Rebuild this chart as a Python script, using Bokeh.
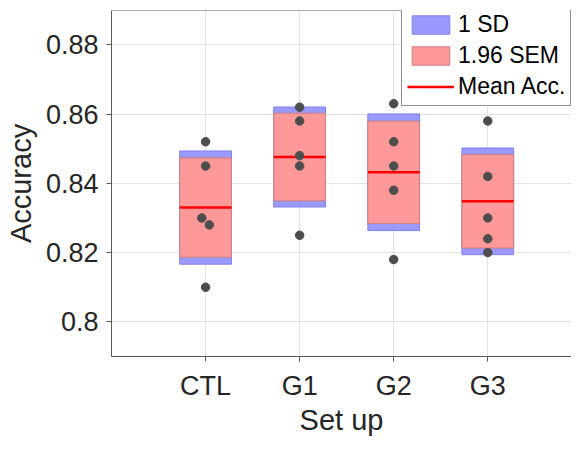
import numpy as np
from bokeh.plotting import figure
from bokeh.models import (Range1d, FixedTicker, LinearAxis, ColumnDataSource, Legend,
                          LegendItem, Grid, Span)
from bokeh.embed import file_html
from bokeh.resources import INLINE

# ---- data ----
groups = ["CTL", "G1", "G2", "G3"]
ctl_acc = [0.852, 0.845, 0.830, 0.828, 0.810]
g1_acc = [0.862, 0.858, 0.848, 0.845, 0.825]
g2_acc = [0.863, 0.852, 0.845, 0.838, 0.818]
g3_acc = [0.858, 0.842, 0.830, 0.824, 0.820]
ctl_jitter = [0.0, 0.0, -0.04, 0.04, 0.0]
g1_jitter = [0.0, 0.0, 0.0, 0.0, 0.0]
g2_jitter = [0.0, 0.0, 0.0, 0.0, 0.0]
g3_jitter = [0.0, 0.0, 0.0, 0.0, 0.0]
y_ticks = [0.80, 0.82, 0.84, 0.86, 0.88]
y_tick_labels = ["0.8", "0.82", "0.84", "0.86", "0.88"]

all_acc = [ctl_acc, g1_acc, g2_acc, g3_acc]
all_jit = [ctl_jitter, g1_jitter, g2_jitter, g3_jitter]
xpos = [1, 2, 3, 4]
half_w = 0.275

means, sds, sems = [], [], []
for a in all_acc:
    arr = np.array(a)
    m = arr.mean()
    sd = arr.std(ddof=1)
    means.append(m)
    sds.append(sd)
    sems.append(1.96 * sd / np.sqrt(len(arr)))

box = ColumnDataSource(dict(
    left=[x - half_w for x in xpos], right=[x + half_w for x in xpos],
    sd_top=[m + s for m, s in zip(means, sds)], sd_bot=[m - s for m, s in zip(means, sds)],
    sem_top=[m + s for m, s in zip(means, sems)], sem_bot=[m - s for m, s in zip(means, sems)],
    mean=means,
))
px, py = [], []
for x, a, j in zip(xpos, all_acc, all_jit):
    for v, d in zip(a, j):
        px.append(x + d)
        py.append(v)
pts = ColumnDataSource(dict(x=px, y=py))

FONT = "Liberation Sans"
AX = "#5a5a5a"
TXT = "#262626"
Y0, Y1 = 0.79, 0.8899

p = figure(width=571, height=438, output_backend="svg", toolbar_location=None,
           x_range=Range1d(0, 4.89), y_range=Range1d(Y0, Y1),
           min_border_left=111, min_border_right=0, min_border_top=10, min_border_bottom=81,
           x_axis_location=None, y_axis_location=None)
p.outline_line_color = None
p.background_fill_color = "white"

def style_axis(ax):
    ax.axis_line_color = AX
    ax.major_tick_line_color = AX
    ax.major_tick_in = 0
    ax.major_tick_out = 5
    ax.minor_tick_line_color = None
    ax.major_label_text_font = FONT
    ax.major_label_text_color = TXT
    ax.axis_label_text_font = FONT
    ax.axis_label_text_color = TXT
    ax.axis_label_text_font_style = "normal"

xa = LinearAxis(ticker=FixedTicker(ticks=xpos),
                major_label_overrides={x: g for x, g in zip(xpos, groups)},
                axis_label="Set up")
style_axis(xa)
xa.major_label_text_font_size = "27px"
xa.axis_label_text_font_size = "29px"
xa.major_label_standoff = 9
xa.axis_label_standoff = 0
p.add_layout(xa, "below")

ya = LinearAxis(ticker=FixedTicker(ticks=y_ticks),
                major_label_overrides={t: l for t, l in zip(y_ticks, y_tick_labels)},
                axis_label="Accuracy")
style_axis(ya)
ya.major_label_text_font_size = "27px"
ya.axis_label_text_font_size = "29px"
ya.major_label_standoff = 8
ya.axis_label_standoff = 6
p.add_layout(ya, "left")

# top border of the box
p.add_layout(Span(location=Y1, dimension="width", line_color=AX, line_width=1))

p.xgrid.visible = False
p.ygrid.visible = False
p.add_layout(Grid(dimension=0, ticker=FixedTicker(ticks=xpos), grid_line_color="#e3e3e3"))
p.add_layout(Grid(dimension=1, ticker=FixedTicker(ticks=y_ticks), grid_line_color="#e3e3e3"))

r_sd = p.quad(left="left", right="right", top="sd_top", bottom="sd_bot", source=box,
              fill_color="#9999ff", line_color="#8080e6", line_width=1)
r_sem = p.quad(left="left", right="right", top="sem_top", bottom="sem_bot", source=box,
               fill_color="#ff9999", line_color="#cc8080", line_width=1)
r_mean = p.segment(x0="left", x1="right", y0="mean", y1="mean", source=box,
                   line_color="#ff0000", line_width=2.5)
p.scatter(x="x", y="y", source=pts, size=8.5, fill_color="#4d4d4d", line_color="#4d4d4d")

legend = Legend(items=[LegendItem(label="1 SD", renderers=[r_sd]),
                       LegendItem(label="1.96 SEM", renderers=[r_sem]),
                       LegendItem(label="Mean Acc.", renderers=[r_mean])],
                location=(290, 250))
legend.label_text_font = FONT
legend.label_text_font_size = "23px"
legend.label_text_color = "black"
legend.glyph_width = 47
legend.glyph_height = 23
legend.label_height = 23
legend.label_standoff = 4
legend.spacing = 4
legend.padding = 5
legend.margin = 0
legend.border_line_color = TXT
legend.border_line_width = 1
legend.background_fill_color = "white"
legend.background_fill_alpha = 1
p.add_layout(legend, "center")

open("out.html", "w").write(file_html(p, INLINE))
